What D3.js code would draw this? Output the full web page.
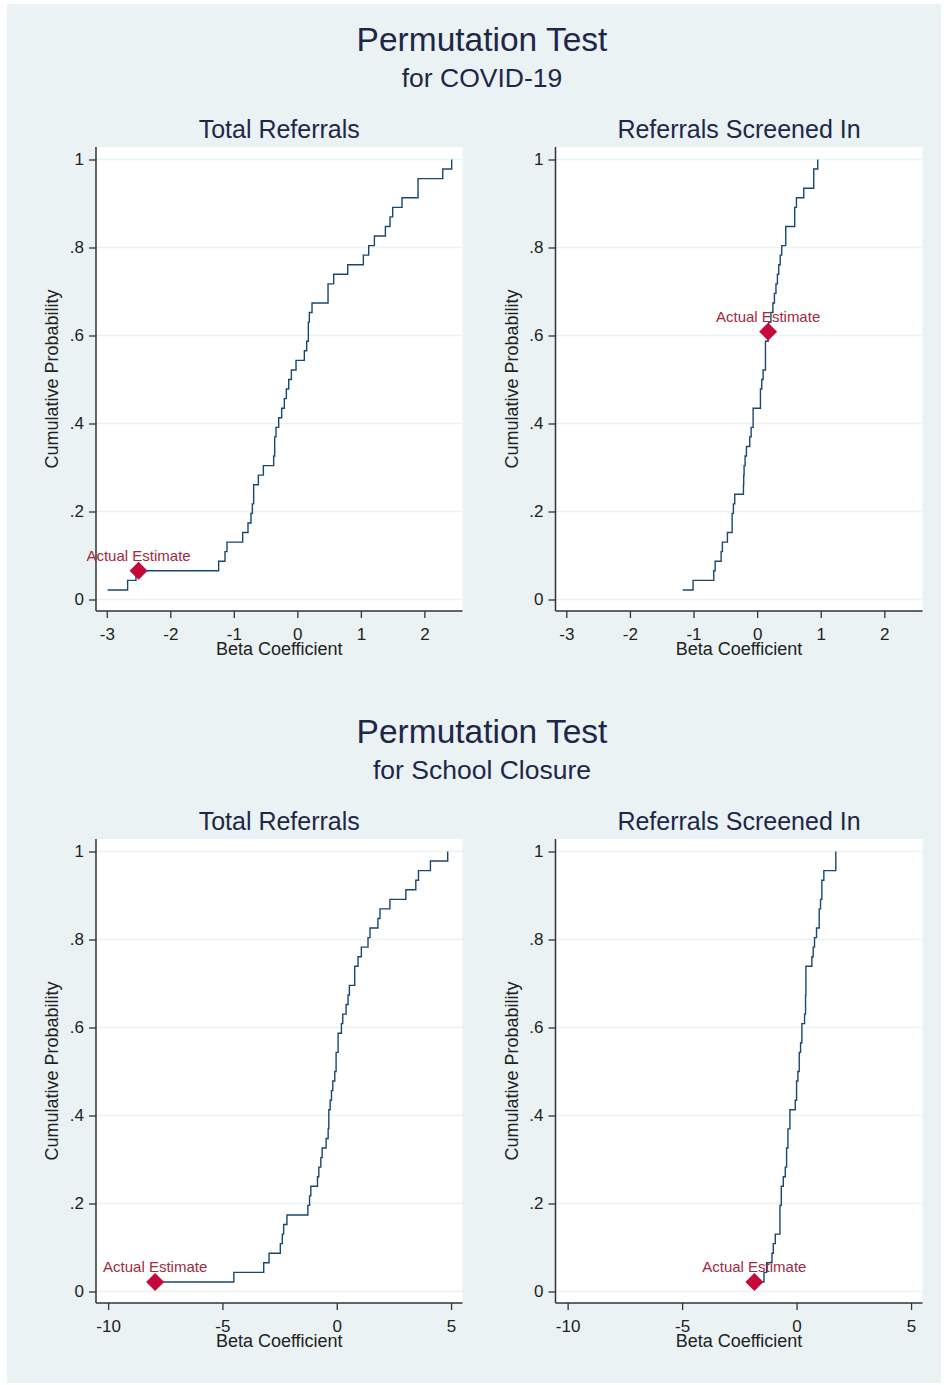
<!DOCTYPE html>
<html>
<head>
<meta charset="utf-8">
<script src="https://cdn.jsdelivr.net/npm/d3@7"></script>
<style>
    body { margin: 0; background: #fff; }
    svg { display: block; font-family: Arial, "Liberation Sans", sans-serif; }
</style>
</head>
<body>
<svg id="chart"></svg>
<script>
"use strict";

// sorted permutation betas (46 draws per outcome)
var covidTotal = [-2.987, -2.672, -2.541, -1.239, -1.139, -1.108, -0.861, -0.777, -0.730, -0.709,
    -0.688, -0.688, -0.614, -0.535, -0.373, -0.357, -0.357, -0.336, -0.294, -0.247,
    -0.205, -0.173, -0.136, -0.094, -0.021, 0.110, 0.147, 0.173, 0.173, 0.189,
    0.231, 0.483, 0.483, 0.572, 0.793, 1.039, 1.123, 1.213, 1.386, 1.459,
    1.501, 1.648, 1.900, 1.900, 2.289, 2.430];
var covidScreened = [-1.170, -1.007, -0.682, -0.660, -0.566, -0.546, -0.467, -0.393, -0.393, -0.373,
    -0.352, -0.215, -0.211, -0.205, -0.189, -0.168, -0.116, -0.094, -0.063, -0.063,
    0.052, 0.052, 0.073, 0.094, 0.131, 0.131, 0.131, 0.173, 0.182, 0.217,
    0.248, 0.272, 0.296, 0.319, 0.340, 0.363, 0.387, 0.450, 0.450, 0.591,
    0.591, 0.618, 0.733, 0.890, 0.890, 0.953];
var schoolTotal = [-7.943, -4.501, -3.194, -2.962, -2.468, -2.381, -2.323, -2.178, -1.263, -1.190,
    -1.133, -0.842, -0.784, -0.697, -0.639, -0.465, -0.376, -0.347, -0.347, -0.289,
    -0.231, -0.173, -0.086, -0.028, -0.028, 0.059, 0.059, 0.204, 0.263, 0.408,
    0.495, 0.553, 0.786, 0.786, 0.931, 1.076, 1.367, 1.454, 1.802, 1.890,
    2.325, 3.023, 3.458, 3.574, 4.097, 4.853];
var schoolScreened = [-1.844, -1.423, -1.307, -1.075, -1.017, -0.930, -0.726, -0.726, -0.726, -0.668,
    -0.668, -0.581, -0.494, -0.436, -0.436, -0.378, -0.378, -0.291, -0.291, -0.058,
    0.000, 0.000, 0.058, 0.116, 0.116, 0.174, 0.232, 0.232, 0.349, 0.392,
    0.392, 0.407, 0.407, 0.407, 0.668, 0.726, 0.784, 0.871, 0.988, 0.988,
    1.046, 1.104, 1.104, 1.191, 1.714, 1.714];

// actual estimates: [total referrals, screened in]
var covidActual = [-2.50, 0.173];
var schoolActual = [-7.943, -1.844];

var groupTitles = ["Permutation Test", "Permutation Test"];
var groupSubtitles = ["for COVID-19", "for School Closure"];
var panelTitles = ["Total Referrals", "Referrals Screened In"];
var covidXTicks = [-3, -2, -1, 0, 1, 2];
var schoolXTicks = [-10, -5, 0, 5];
var yTicks = [0, .2, .4, .6, .8, 1];
var yTickLabels = ["0", ".2", ".4", ".6", ".8", "1"];

var width = 944;
var height = 1385;

var svg = d3.select("#chart")
    .attr("width", width)
    .attr("height", height);

// graph region
svg.append("rect")
    .attr("x", 7)
    .attr("y", 4)
    .attr("width", 934)
    .attr("height", 1379)
    .style("fill", "#eaf2f3");

var titleColor = "#1e2747";
var textColor = "#222";
var axisColor = "#333";

var cols = [{left: 96, right: 462.5}, {left: 555.5, right: 922.5}];

var groups = [
    {offset: 0, series: [covidTotal, covidScreened], actual: covidActual, ticks: covidXTicks, domain: [-3.17, 2.6]},
    {offset: 692, series: [schoolTotal, schoolScreened], actual: schoolActual, ticks: schoolXTicks, domain: [-10.53, 5.5]}
];

groups.forEach(function(grp, gi) {
    svg.append("text")
        .attr("x", 482)
        .attr("y", 51 + grp.offset)
        .attr("text-anchor", "middle")
        .style("font-size", "33.5px")
        .style("fill", titleColor)
        .text(groupTitles[gi]);
    svg.append("text")
        .attr("x", 482)
        .attr("y", 87 + grp.offset)
        .attr("text-anchor", "middle")
        .style("font-size", "26.5px")
        .style("fill", titleColor)
        .text(groupSubtitles[gi]);

    grp.series.forEach(function(values, pi) {
        var box = {
            left: cols[pi].left,
            right: cols[pi].right,
            top: 147 + grp.offset,
            bottom: 611 + grp.offset
        };
        drawPanel(values, grp.actual[pi], grp.domain, grp.ticks, box, panelTitles[pi]);
    });
});

function drawPanel(values, actual, xDomain, xTicks, box, title) {
    var g = svg.append("g");

    var x = d3.scaleLinear()
        .domain(xDomain)
        .range([box.left, box.right]);
    var y = d3.scaleLinear()
        .domain([0, 1])
        .range([box.bottom - 11.5, box.top + 12.5]);

    // plot region
    g.append("rect")
        .attr("x", box.left)
        .attr("y", box.top)
        .attr("width", box.right - box.left)
        .attr("height", box.bottom - box.top)
        .style("fill", "#fff");

    // gridlines
    g.selectAll(".grid")
        .data(yTicks)
        .enter()
        .append("line")
        .attr("class", "grid")
        .attr("x1", box.left)
        .attr("x2", box.right)
        .attr("y1", d => y(d))
        .attr("y2", d => y(d))
        .style("stroke", "#eaf2f3")
        .style("stroke-width", 1.3);

    // axes
    var yAxis = d3.axisLeft(y)
        .tickValues(yTicks)
        .tickFormat((d, i) => yTickLabels[i])
        .tickSize(7)
        .tickPadding(5);
    var yG = g.append("g")
        .attr("transform", "translate(" + box.left + ",0)")
        .call(yAxis);

    var xAxis = d3.axisBottom(x)
        .tickValues(xTicks)
        .tickFormat(d3.format("d"))
        .tickSize(7)
        .tickPadding(10);
    var xG = g.append("g")
        .attr("transform", "translate(0," + box.bottom + ")")
        .call(xAxis);

    [yG, xG].forEach(function(a) {
        a.select(".domain").remove();
        a.attr("font-family", null).attr("font-size", null);
        a.selectAll(".tick line").style("stroke", axisColor).style("stroke-width", 1.3);
        a.selectAll(".tick text").style("font-size", "17px").style("fill", textColor);
    });
    // x labels use a plain hyphen like the original
    xG.selectAll(".tick text").text(d => String(d));

    g.append("line")
        .attr("x1", box.left)
        .attr("x2", box.left)
        .attr("y1", box.top)
        .attr("y2", box.bottom)
        .style("stroke", axisColor)
        .style("stroke-width", 1.5);
    g.append("line")
        .attr("x1", box.left)
        .attr("x2", box.right)
        .attr("y1", box.bottom)
        .attr("y2", box.bottom)
        .style("stroke", axisColor)
        .style("stroke-width", 1.5);

    // titles
    g.append("text")
        .attr("x", (box.left + box.right) / 2)
        .attr("y", box.top - 9)
        .attr("text-anchor", "middle")
        .style("font-size", "25px")
        .style("fill", titleColor)
        .text(title);
    g.append("text")
        .attr("x", (box.left + box.right) / 2)
        .attr("y", box.bottom + 44)
        .attr("text-anchor", "middle")
        .style("font-size", "18px")
        .style("fill", textColor)
        .text("Beta Coefficient");
    g.append("text")
        .attr("transform", "translate(" + (box.left - 38) + "," + ((box.top + box.bottom) / 2) + ") rotate(-90)")
        .attr("text-anchor", "middle")
        .style("font-size", "18px")
        .style("fill", textColor)
        .text("Cumulative Probability");

    // empirical cdf as a stairstep
    var n = values.length;
    var pts = values.map((v, i) => [v, (i + 1) / n]);
    var line = d3.line()
        .x(d => x(d[0]))
        .y(d => y(d[1]))
        .curve(d3.curveStepAfter);
    g.append("path")
        .datum(pts)
        .attr("d", line)
        .style("fill", "none")
        .style("stroke", "#1a476f")
        .style("stroke-width", 1.4);

    // actual estimate marker
    var ay = d3.bisectRight(values, actual) / n;
    var cx = x(actual), cy = y(ay);
    g.append("path")
        .attr("d", d3.symbol(d3.symbolSquare, 162)())
        .attr("transform", "translate(" + cx + "," + cy + ") rotate(45)")
        .style("fill", "#c4083a");
    g.append("text")
        .attr("x", cx)
        .attr("y", cy - 10)
        .attr("text-anchor", "middle")
        .style("font-size", "15px")
        .style("fill", "#a02a40")
        .text("Actual Estimate");
}
</script>
</body>
</html>
